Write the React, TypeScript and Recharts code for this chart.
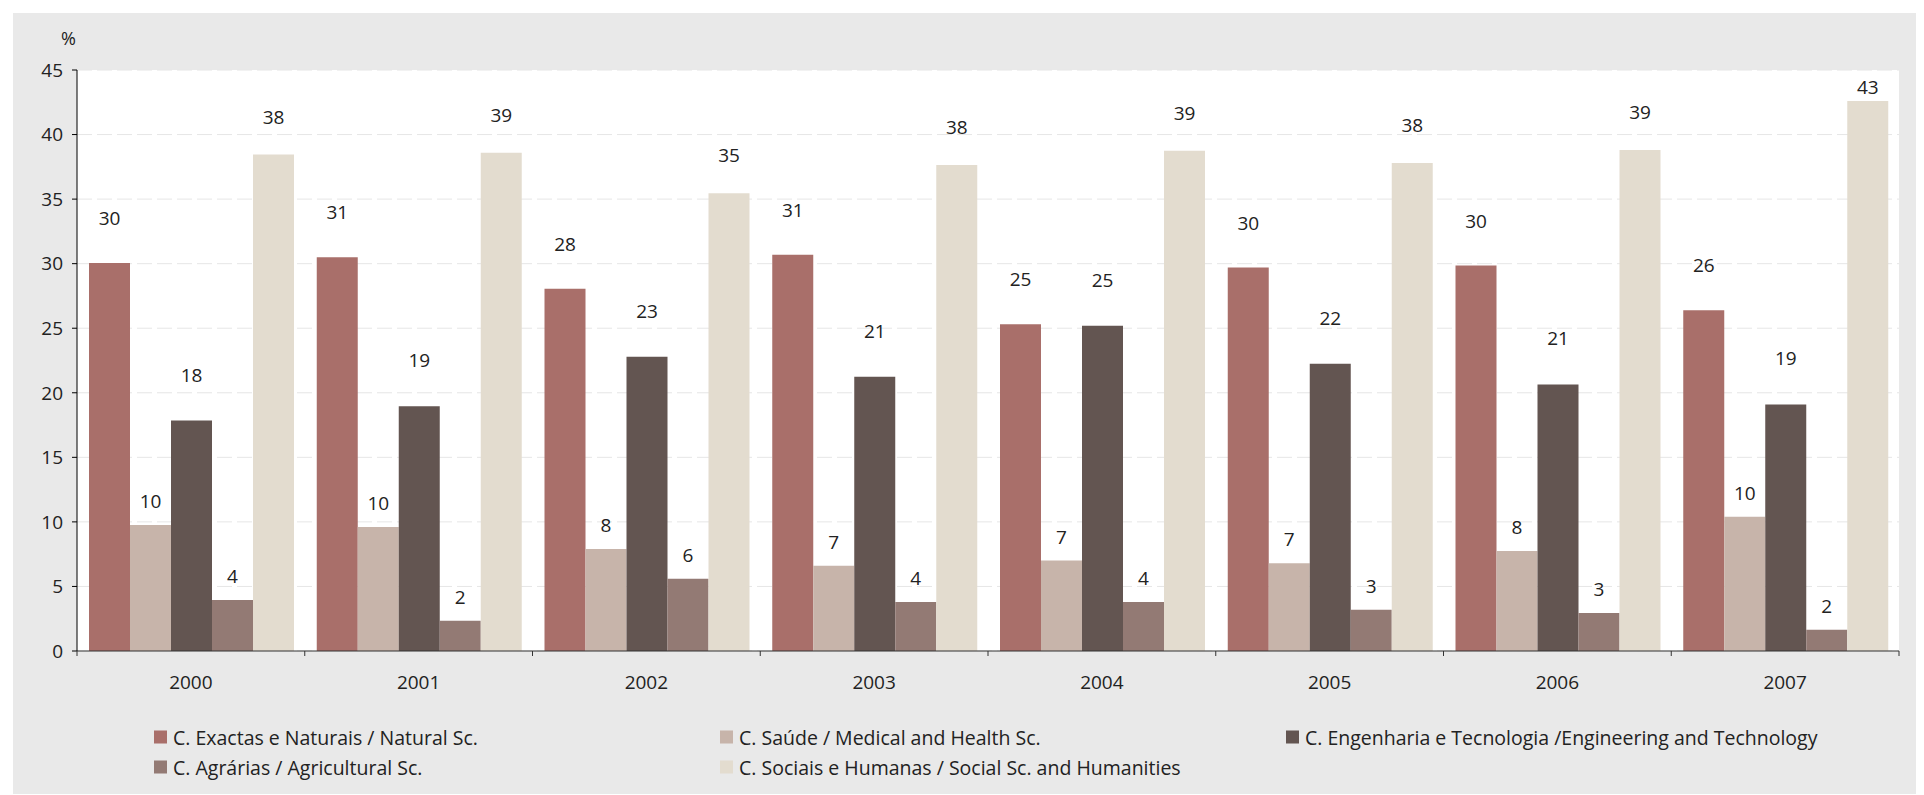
import React from "react"
import { Bar, BarChart, CartesianGrid, LabelList, XAxis, YAxis } from "recharts"

const YEARS = ["2000", "2001", "2002", "2003", "2004", "2005", "2006", "2007"]
const NATURAL = [30.05, 30.5, 28.05, 30.7, 25.3, 29.7, 29.85, 26.4]
const MEDICAL = [9.75, 9.6, 7.9, 6.6, 7.0, 6.8, 7.75, 10.4]
const ENGINEERING = [17.85, 18.95, 22.8, 21.25, 25.2, 22.25, 20.65, 19.1]
const AGRICULTURAL = [3.95, 2.35, 5.6, 3.8, 3.8, 3.2, 2.95, 1.65]
const SOCIAL = [38.45, 38.6, 35.45, 37.65, 38.75, 37.8, 38.8, 42.6]
const Y_TICKS = [0, 5, 10, 15, 20, 25, 30, 35, 40, 45]

const SERIES = [
  { key: "natural", name: "C. Exactas e Naturais / Natural Sc.", color: "#A96F6A", labelGap: 45 },
  { key: "medical", name: "C. Saúde / Medical and Health Sc.", color: "#C7B4AA", labelGap: 24 },
  { key: "engineering", name: "C. Engenharia e Tecnologia /Engineering and Technology", color: "#635551", labelGap: 46 },
  { key: "agricultural", name: "C. Agrárias / Agricultural Sc.", color: "#937A74", labelGap: 24 },
  { key: "social", name: "C. Sociais e Humanas / Social Sc. and Humanities", color: "#E3DCCF", labelGap: 38 },
]

const data = YEARS.map((year, i) => ({
  year,
  natural: NATURAL[i],
  medical: MEDICAL[i],
  engineering: ENGINEERING[i],
  agricultural: AGRICULTURAL[i],
  social: SOCIAL[i],
}))

const FONT = "'Open Sans', 'Noto Sans', sans-serif"
const TEXT = "#222"

function XTick(props: any) {
  const { x, y, payload, index, visibleTicksCount } = props
  const half = payload?.offset ?? 0
  const isLast = index === visibleTicksCount - 1
  return (
    <g>
      <line x1={x - half} x2={x - half} y1={y - 6} y2={y - 1} stroke="#333" />
      {isLast && <line x1={x + half} x2={x + half} y1={y - 6} y2={y - 1} stroke="#333" />}
      <text x={x} y={y + 25} textAnchor="middle" dominantBaseline="central" fill={TEXT} fontSize={19} fontFamily={FONT}>
        {payload.value}
      </text>
    </g>
  )
}

function makeLabel(gap: number) {
  return (props: any) => {
    const { x, y, width, value } = props
    // keep the label inside the plot area (top of plot is at 57)
    const cy = Math.max(y - gap, 74)
    return (
      <text x={x + width / 2} y={cy} textAnchor="middle" dominantBaseline="central" fill={TEXT} fontSize={19} fontFamily={FONT}>
        {Math.round(value)}
      </text>
    )
  }
}

export default function App() {
  return (
    <div style={{ padding: "5px 0 0 5px", fontFamily: FONT }}>
      <div style={{ position: "relative", width: 1911, height: 781, background: "#E9E9E9" }}>
        <div style={{ position: "absolute", left: 48, top: 13, fontSize: 18, color: TEXT }}>%</div>
        <BarChart
          width={1911}
          height={781}
          data={data}
          margin={{ top: 57, right: 25, left: 0, bottom: 113 }}
          barCategoryGap={12}
          barGap={0}
        >
          <CartesianGrid vertical={false} stroke="#E6E6E6" strokeDasharray="15 5" fill="#fff" />
          <XAxis
            dataKey="year"
            height={30}
            axisLine={{ stroke: "#333" }}
            tickLine={false}
            tickSize={6}
            tickMargin={0}
            interval={0}
            tick={<XTick />}
          />
          <YAxis
            width={64}
            domain={[0, 45]}
            ticks={Y_TICKS}
            interval={0}
            axisLine={{ stroke: "#000" }}
            tickLine={{ stroke: "#000" }}
            tickSize={5}
            tickMargin={9}
            tick={{ fill: TEXT, fontSize: 19, fontFamily: FONT }}
          />
          {SERIES.map((s) => (
            <Bar key={s.key} dataKey={s.key} name={s.name} fill={s.color} isAnimationActive={false}>
              <LabelList dataKey={s.key} content={makeLabel(s.labelGap)} />
            </Bar>
          ))}
        </BarChart>
        {SERIES.map((s, i) => (
          <div
            key={s.key}
            style={{
              position: "absolute",
              left: 141 + (i % 3) * 566,
              top: 724 + Math.floor(i / 3) * 30,
              transform: "translateY(-50%)",
              display: "flex",
              alignItems: "center",
              fontSize: 19.5,
              color: TEXT,
              whiteSpace: "nowrap",
            }}
          >
            <span style={{ display: "inline-block", width: 13, height: 13, background: s.color, marginRight: 6 }} />
            {s.name}
          </div>
        ))}
      </div>
    </div>
  )
}
